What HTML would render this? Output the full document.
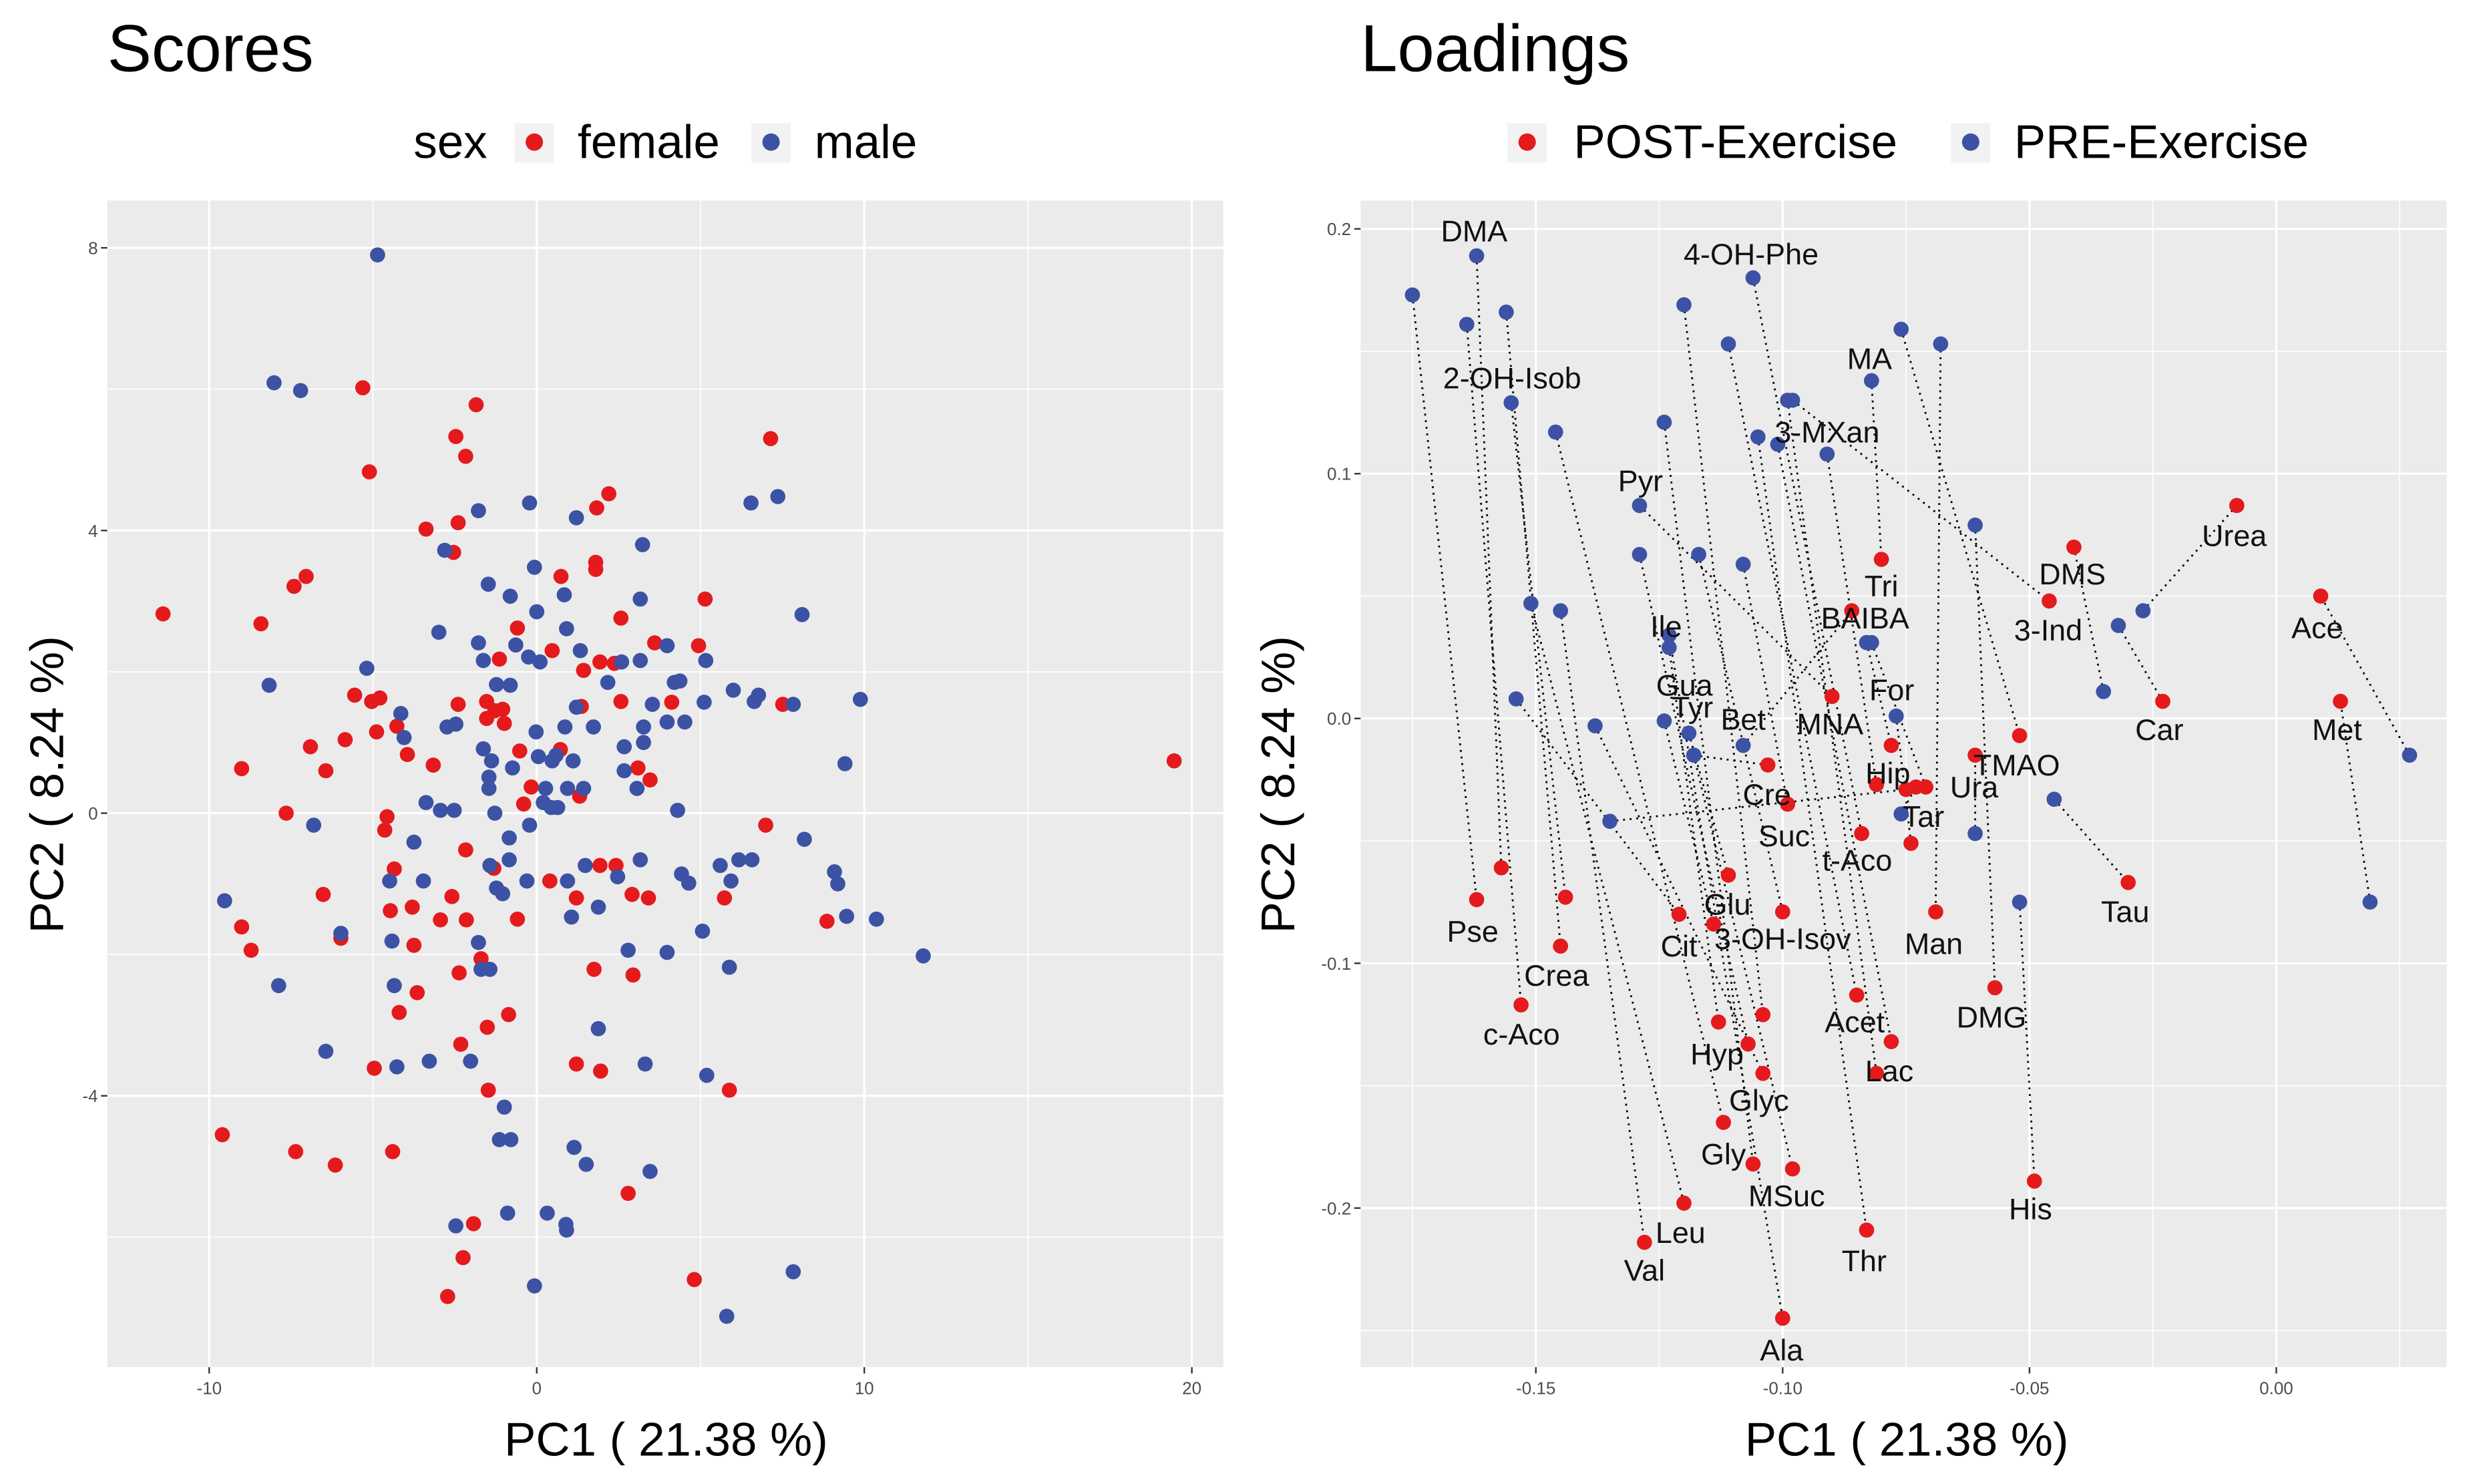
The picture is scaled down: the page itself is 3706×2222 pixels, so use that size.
<!DOCTYPE html>
<html><head><meta charset="utf-8"><style>
html,body{margin:0;padding:0;background:#fff;}
svg{display:block;font-family:"Liberation Sans",Arial,sans-serif;}
</style></head><body>
<svg id="chart" width="3706" height="2222" viewBox="0 0 1568 940" preserveAspectRatio="none" xmlns="http://www.w3.org/2000/svg">
<rect width="1568" height="940" fill="#fff"/>
<text x="68" y="45" font-size="42" fill="#000">Scores</text>
<text x="862" y="45" font-size="42" fill="#000">Loadings</text>
<g font-size="30">
<text x="262" y="100">sex</text>
<rect x="326" y="78" width="25" height="25" fill="#f2f2f2"/>
<circle cx="338.5" cy="90" r="5.5" fill="#e41a1c"/>
<text x="366" y="100">female</text>
<rect x="476" y="78" width="25" height="25" fill="#f2f2f2"/>
<circle cx="488.5" cy="90" r="5.5" fill="#3c52a4"/>
<text x="516" y="100">male</text>
</g>
<g font-size="30">
<rect x="955" y="78" width="25" height="25" fill="#f2f2f2"/>
<circle cx="967.5" cy="90" r="5.5" fill="#e41a1c"/>
<text x="997" y="100">POST-Exercise</text>
<rect x="1236" y="78" width="25" height="25" fill="#f2f2f2"/>
<circle cx="1248.5" cy="90" r="5.5" fill="#3c52a4"/>
<text x="1276" y="100">PRE-Exercise</text>
</g>
<g id="left"></g>
<g id="right"></g>
<text x="422" y="922" font-size="30" text-anchor="middle">PC1 ( 21.38 %)</text>
<text x="1208" y="922" font-size="30" text-anchor="middle">PC1 ( 21.38 %)</text>
<text transform="translate(40,497) rotate(-90)" font-size="30" text-anchor="middle">PC2 ( 8.24 %)</text>
<text transform="translate(820,497) rotate(-90)" font-size="30" text-anchor="middle">PC2 ( 8.24 %)</text>
</svg>
<script>
// ---------- Scores data ----------
const femaleX=[-5.31,-1.85,-5.11,-2.47,-2.17,7.14,-3.38,-2.40,-2.54,1.83,2.20,1.80,1.80,0.74,-7.04,-7.41,-11.41,-8.42,-0.59,0.47,2.57,5.14,3.60,4.94,-1.14,1.93,2.37,1.43,-5.56,-5.04,-4.79,-2.40,-1.53,-1.28,-1.04,1.36,2.57,4.12,7.51,-1.53,-0.99,-4.27,-4.89,-5.85,-6.91,-6.44,-9.01,-3.95,-3.16,-0.52,0.72,3.09,3.46,19.46,-0.17,-0.40,1.31,-7.65,-4.57,-4.64,6.99,-2.17,-4.35,-1.31,1.93,2.42,0.40,-6.52,-2.59,1.21,2.91,3.41,5.73,-3.80,-4.47,-2.94,-2.15,-0.59,8.86,-9.01,-8.72,-5.98,-3.75,-1.70,-2.37,1.75,2.94,-3.65,-4.20,-0.86,-1.51,-2.32,-4.96,1.21,1.95,-1.48,5.88,-9.60,-7.36,-6.15,-4.40,2.79,-1.93,-2.25,-2.72,4.81];
const femaleY=[6.02,5.78,4.83,5.33,5.05,5.30,4.02,4.11,3.69,4.32,4.52,3.55,3.45,3.35,3.35,3.21,2.82,2.68,2.62,2.30,2.76,3.03,2.41,2.37,2.18,2.14,2.12,2.02,1.67,1.58,1.63,1.54,1.58,1.45,1.47,1.51,1.58,1.57,1.54,1.34,1.27,1.23,1.15,1.04,0.94,0.60,0.63,0.83,0.68,0.88,0.90,0.64,0.47,0.74,0.37,0.13,0.24,0,-0.05,-0.24,-0.17,-0.52,-0.79,-0.78,-0.74,-0.74,-0.96,-1.15,-1.18,-1.20,-1.15,-1.20,-1.20,-1.33,-1.38,-1.51,-1.51,-1.50,-1.53,-1.61,-1.94,-1.77,-1.87,-2.06,-2.26,-2.21,-2.29,-2.54,-2.82,-2.85,-3.03,-3.27,-3.61,-3.55,-3.65,-3.92,-3.92,-4.55,-4.79,-4.98,-4.79,-5.38,-5.81,-6.29,-6.84,-6.60];
const maleX=[-4.86,-8.02,-7.21,-1.78,-0.22,1.21,-2.81,3.23,6.54,7.36,-1.48,-0.81,-0.07,0.84,3.16,0,8.10,-2.99,0.91,-1.78,-1.63,-0.64,-0.25,0.10,1.33,2.59,3.16,3.98,5.16,-5.19,-8.17,-1.23,-0.81,2.17,4.20,4.37,6.0,6.64,6.77,7.83,9.88,-4.15,-4.05,1.21,1.73,3.53,5.11,3.98,4.52,-2.74,-2.47,-0.02,0.86,2.67,3.26,3.26,-1.63,-1.38,-0.74,0.05,0.47,0.59,1.11,-1.46,-1.46,0.27,0.94,1.43,2.67,3.06,9.41,-3.38,-2.94,-2.52,-1.28,-0.22,0.20,0.44,0.64,4.30,-6.81,-3.75,-0.84,8.17,-1.43,-0.84,0.94,1.48,2.47,3.16,4.42,4.64,5.60,5.93,6.17,6.57,9.09,9.19,-9.53,-4.49,-3.46,-1.23,-1.04,-0.30,1.06,1.88,9.46,10.37,-5.98,-4.42,-1.78,2.79,3.98,5.06,11.80,-7.88,-1.70,-1.43,5.88,-4.35,1.88,-6.44,-4.27,-3.28,-2.02,3.31,5.19,-0.99,-1.14,-0.79,1.14,1.51,3.46,-2.47,-0.89,0.32,0.89,0.91,7.83,-0.07,5.80];
const maleY=[7.90,6.09,5.98,4.28,4.39,4.18,3.72,3.80,4.39,4.48,3.24,3.07,3.48,3.09,3.03,2.85,2.81,2.56,2.61,2.41,2.16,2.38,2.21,2.14,2.30,2.14,2.16,2.37,2.16,2.05,1.81,1.82,1.81,1.85,1.85,1.87,1.74,1.58,1.67,1.54,1.61,1.41,1.07,1.50,1.22,1.54,1.57,1.29,1.29,1.22,1.26,1.15,1.22,0.94,1.22,1.00,0.91,0.74,0.64,0.80,0.74,0.82,0.74,0.51,0.35,0.35,0.35,0.35,0.60,0.35,0.70,0.15,0.04,0.04,0,-0.17,0.15,0.08,0.08,0.04,-0.17,-0.41,-0.35,-0.37,-0.74,-0.66,-0.96,-0.74,-0.90,-0.66,-0.86,-0.99,-0.74,-0.96,-0.66,-0.66,-0.83,-1.00,-1.24,-0.96,-0.96,-1.06,-1.14,-0.96,-1.47,-1.33,-1.46,-1.50,-1.70,-1.81,-1.83,-1.94,-1.97,-1.67,-2.02,-2.44,-2.21,-2.21,-2.18,-2.44,-3.05,-3.37,-3.59,-3.51,-3.51,-3.55,-3.71,-4.16,-4.62,-4.62,-4.73,-4.97,-5.07,-5.84,-5.66,-5.66,-5.82,-5.90,-6.49,-6.69,-7.12];
const scoresXTicks=[-10,0,10,20];
const scoresYTicks=[-4,0,4,8];
// ---------- Loadings data ----------
const preX=[-0.175,-0.162,-0.164,-0.156,-0.155,-0.146,-0.120,-0.106,-0.111,-0.124,-0.099,-0.105,-0.101,-0.091,-0.082,-0.076,-0.068,-0.129,-0.129,-0.117,-0.108,-0.061,-0.151,-0.145,-0.123,-0.123,-0.154,-0.138,-0.124,-0.119,-0.118,-0.108,-0.135,-0.083,-0.082,-0.077,-0.076,-0.061,-0.052,-0.045,-0.035,-0.027,-0.032,0.027,0.019,-0.098,-0.118];
const preY=[0.173,0.189,0.161,0.166,0.129,0.117,0.169,0.180,0.153,0.121,0.130,0.115,0.112,0.108,0.138,0.159,0.153,0.087,0.067,0.067,0.063,0.079,0.047,0.044,0.034,0.029,0.008,-0.003,-0.001,-0.006,-0.015,-0.011,-0.042,0.031,0.031,0.001,-0.039,-0.047,-0.075,-0.033,0.011,0.044,0.038,-0.015,-0.075,0.130,-0.015];
const postX=[-0.162,-0.157,-0.153,-0.145,-0.144,-0.112,-0.104,-0.084,-0.085,-0.106,-0.081,-0.083,-0.078,-0.081,-0.080,-0.052,-0.069,-0.090,-0.107,-0.100,-0.099,-0.057,-0.120,-0.128,-0.100,-0.113,-0.121,-0.104,-0.114,-0.111,-0.103,-0.086,-0.075,-0.078,-0.071,-0.074,-0.073,-0.061,-0.049,-0.030,-0.041,-0.008,-0.023,0.009,0.013,-0.046,-0.098];
const postY=[-0.074,-0.061,-0.117,-0.093,-0.073,-0.165,-0.121,-0.047,-0.113,-0.182,-0.145,-0.209,-0.132,-0.027,0.065,-0.007,-0.079,0.009,-0.133,-0.079,-0.035,-0.110,-0.198,-0.214,-0.245,-0.124,-0.080,-0.145,-0.084,-0.064,-0.019,0.044,-0.029,-0.011,-0.028,-0.051,-0.028,-0.015,-0.189,-0.067,0.070,0.087,0.007,0.050,0.007,0.048,-0.184];
const labels=["DMA","4-OH-Phe","2-OH-Isob","MA","3-MXan","Pyr","Tri","BAIBA","Urea","DMS","3-Ind","Ace","Ile","Gua","Tyr","Bet","MNA","For","Car","Met","Hip","TMAO","Ura","Tar","Cre","Suc","t-Aco","Tau","Glu","Cit","3-OH-Isov","Man","Pse","Crea","c-Aco","Acet","DMG","Lac","Hyp","Glyc","Gly","MSuc","Leu","Val","Thr","His","Ala"];
const labelX=[-0.1625,-0.1064,-0.1548,-0.0824,-0.091,-0.1288,-0.080,-0.0833,-0.0085,-0.0413,-0.0462,0.0083,-0.1236,-0.1199,-0.1183,-0.108,-0.0904,-0.0779,-0.0237,0.0123,-0.0787,-0.0526,-0.0612,-0.0715,-0.1032,-0.0997,-0.0849,-0.0306,-0.1112,-0.121,-0.100,-0.0694,-0.1628,-0.1458,-0.1529,-0.0854,-0.0577,-0.0784,-0.1133,-0.1048,-0.112,-0.0992,-0.1207,-0.128,-0.0835,-0.0498,-0.1002];
const labelY=[0.199,0.1896,0.139,0.147,0.117,0.097,0.054,0.041,0.0747,0.059,0.036,0.037,0.0375,0.0135,0.0046,-0.0004,-0.0023,0.0116,-0.0046,-0.0046,-0.0224,-0.019,-0.028,-0.040,-0.031,-0.048,-0.058,-0.079,-0.076,-0.093,-0.090,-0.092,-0.087,-0.105,-0.129,-0.124,-0.122,-0.144,-0.137,-0.156,-0.178,-0.195,-0.210,-0.2255,-0.2217,-0.2004,-0.258];
const loadXTicks=[-0.15,-0.10,-0.05,0.00];
const loadYTicks=[-0.2,-0.1,0.0,0.1,0.2];

const NS="http://www.w3.org/2000/svg";
const RED="#e41a1c", BLUE="#3c52a4";
function mk(parent,tag,attrs){const e=document.createElementNS(NS,tag);for(const k in attrs)e.setAttribute(k,attrs[k]);parent.appendChild(e);return e;}

function panel(g,box,xd,yd,xt,yt,xMinor,yMinor,fmtX,fmtY,prefix){
  const sx=v=>box.x0+(v-xd[0])/(xd[1]-xd[0])*(box.x1-box.x0);
  const sy=v=>box.y1-(v-yd[0])/(yd[1]-yd[0])*(box.y1-box.y0);
  const bg=mk(g,'rect',{x:box.x0,y:box.y0,width:box.x1-box.x0,height:box.y1-box.y0,fill:'#ebebeb'});
  
  
  xMinor.forEach(v=>{const l=mk(g,'line',{x1:sx(v),x2:sx(v),y1:box.y0,y2:box.y1,stroke:'#fff','stroke-width':0.7});
    
    });
  yMinor.forEach(v=>{const l=mk(g,'line',{x1:box.x0,x2:box.x1,y1:sy(v),y2:sy(v),stroke:'#fff','stroke-width':0.7});
    
    });
  xt.forEach(v=>{const l=mk(g,'line',{x1:sx(v),x2:sx(v),y1:box.y0,y2:box.y1,stroke:'#fff','stroke-width':1.4});
    
    
    mk(g,'line',{x1:sx(v),x2:sx(v),y1:box.y1,y2:box.y1+4,stroke:'#333','stroke-width':1});
    const t=mk(g,'text',{x:sx(v),y:box.y1+17,'font-size':11,'text-anchor':'middle',fill:'#4d4d4d'});
    t.textContent=fmtX(v);
    
    });
  yt.forEach(v=>{const l=mk(g,'line',{x1:box.x0,x2:box.x1,y1:sy(v),y2:sy(v),stroke:'#fff','stroke-width':1.4});
    
    
    mk(g,'line',{x1:box.x0-4,x2:box.x0,y1:sy(v),y2:sy(v),stroke:'#333','stroke-width':1});
    const t=mk(g,'text',{x:box.x0-6,y:sy(v)+4,'font-size':11,'text-anchor':'end',fill:'#4d4d4d'});
    t.textContent=fmtY(v);
    
    });
  return {sx,sy};
}

// Scores panel
const L=document.getElementById('left');


const s=panel(L,{x0:68,x1:775,y0:127,y1:866},[-13.11,20.96],[-7.84,8.67],scoresXTicks,scoresYTicks,[-5,5,15],[-6,-2,2,6],v=>String(v),v=>String(v),'scores');
femaleX.forEach((v,i)=>{const c=mk(L,'circle',{cx:s.sx(v),cy:s.sy(femaleY[i]),r:4.8,fill:RED});
  
  });
maleX.forEach((v,i)=>{const c=mk(L,'circle',{cx:s.sx(v),cy:s.sy(maleY[i]),r:4.8,fill:BLUE});
  
  });

// Loadings panel
const R=document.getElementById('right');


const f2=v=>v.toFixed(2), f1=v=>(Math.abs(v)<1e-9?'0.0':v.toFixed(1));
const r=panel(R,{x0:862,x1:1550,y0:127,y1:866},[-0.1855,0.0345],[-0.265,0.2116],loadXTicks,loadYTicks,[-0.175,-0.125,-0.075,-0.025,0.025],[-0.25,-0.15,-0.05,0.05,0.15],f2,f1,'loadings');
preX.forEach((v,i)=>{const l=mk(R,'line',{x1:r.sx(v),y1:r.sy(preY[i]),x2:r.sx(postX[i]),y2:r.sy(postY[i]),stroke:'#000','stroke-width':1.2,'stroke-dasharray':'1.2,3'});
  
  });
postX.forEach((v,i)=>{const c=mk(R,'circle',{cx:r.sx(v),cy:r.sy(postY[i]),r:4.8,fill:RED});
  
  });
preX.forEach((v,i)=>{const c=mk(R,'circle',{cx:r.sx(v),cy:r.sy(preY[i]),r:4.8,fill:BLUE});
  
  });
labels.forEach((n,i)=>{const t=mk(R,'text',{x:r.sx(labelX[i]),y:r.sy(labelY[i])+6.5,'font-size':19,'text-anchor':'middle',fill:'#111'});
  t.textContent=n;
  
  });
</script>
</body></html>
